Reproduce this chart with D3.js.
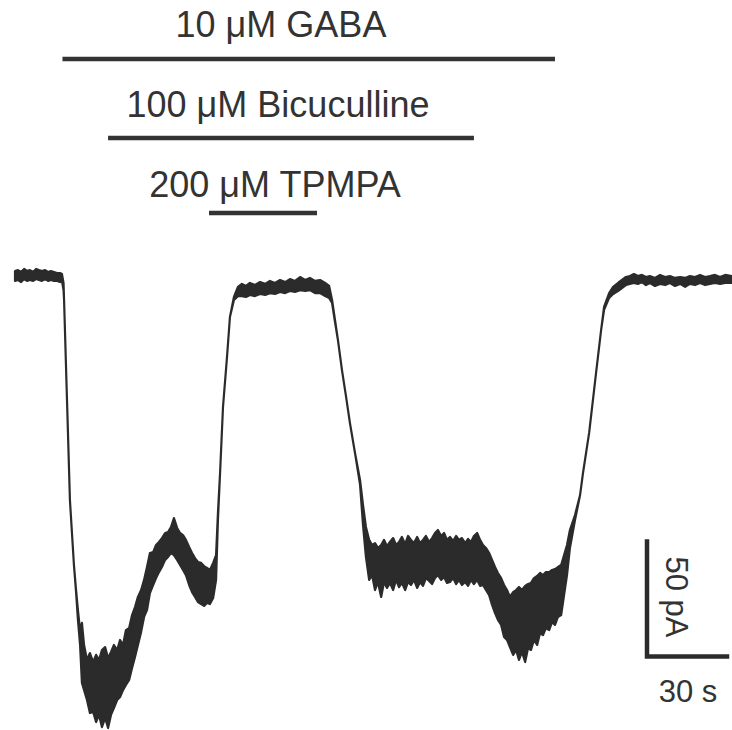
<!DOCTYPE html>
<html>
<head>
<meta charset="utf-8">
<script src="https://cdn.jsdelivr.net/npm/d3@7"></script>
<style>
  html, body { margin: 0; padding: 0; background: #ffffff; }
  svg { display: block; }
  text { font-family: "Liberation Sans", Arial, sans-serif; fill: #333333; }
</style>
</head>
<body>
<svg id="chart" width="732" height="730"></svg>
<script>
// ---------- DATA ----------
// Drug applications (seconds)
const drugLabels = ["10 \u03BCM GABA", "100 \u03BCM Bicuculline", "200 \u03BCM TPMPA"];
const drugStart = [17.8, 34.9, 72.75];
const drugEnd   = [202.5, 172.1, 113.25];

// Whole-cell current trace: time (s), upper and lower envelope of the noisy band (pA)
const traceTime = [0,1.1,2.3,3.4,4.5,5.6,6.8,7.9,9.0,10.1,11.3,12.4,13.5,14.6,15.8,16.9,17.6,18.2,18.4,19.5,20.6,22.1,22.9,23.6,24.4,25.1,25.9,27.0,28.1,29.3,30.4,31.5,32.6,33.8,34.9,36.0,37.1,38.3,39.4,40.5,41.6,42.8,43.9,45.0,46.1,47.3,48.4,49.5,50.6,51.8,52.9,54.0,55.1,56.3,57.4,58.5,59.6,60.8,61.9,63.0,64.1,65.3,66.4,67.5,68.6,69.8,70.9,72.0,73.1,74.3,75.4,76.1,76.9,78.0,79.5,80.6,82.1,83.6,85.1,86.6,88.1,90.0,91.9,93.8,95.6,97.5,99.4,101.3,103.1,105.0,106.9,108.8,110.6,112.5,114.4,116.3,117.8,118.9,120.0,121.1,122.6,124.1,125.6,127.5,129.4,130.5,131.6,132.8,133.9,135.0,136.1,137.3,138.4,139.5,140.6,141.8,142.9,144.0,145.1,146.3,147.4,148.5,149.6,150.8,151.9,153.0,154.1,155.3,156.4,157.5,158.6,159.8,160.9,162.0,163.1,164.3,165.4,166.5,167.6,168.8,169.9,171.0,172.1,173.3,174.4,175.5,176.6,177.8,178.9,180.0,181.1,182.3,183.4,184.5,185.6,186.8,187.9,189.0,190.1,191.3,192.4,193.5,194.6,195.8,196.9,198.0,199.1,200.3,201.4,202.5,203.6,204.8,205.9,207.0,208.1,210.0,211.9,213.0,215.3,217.9,219.8,220.9,222.8,224.3,226.1,227.6,229.1,230.6,232.1,233.6,235.1,236.6,238.1,240.0,241.9,243.8,245.6,247.5,249.4,251.3,253.1,255.0,256.9,258.8,260.6,262.5,264.4,266.3,268.9];

const traceUpper = [2.6,3.0,2.2,3.5,2.6,3.0,2.2,3.5,3.0,2.6,3.0,2.2,2.6,2.2,1.7,1.7,1.3,-2.6,-10.0,-53.5,-97.0,-125.2,-136.1,-144.8,-153.5,-150.4,-160.0,-166.5,-163.5,-167.4,-164.3,-166.5,-162.2,-160.9,-165.7,-163.0,-160.0,-162.2,-157.8,-160.0,-153.5,-152.6,-147.0,-143.5,-139.1,-136.1,-131.7,-126.1,-120.0,-119.6,-116.5,-115.2,-113.5,-111.3,-110.9,-108.7,-104.8,-109.1,-111.3,-112.2,-114.3,-117.4,-120.0,-122.2,-123.9,-124.3,-125.7,-126.5,-127.4,-124.3,-120.9,-102.6,-85.2,-56.5,-34.8,-17.4,-8.7,-4.3,-3.0,-3.9,-2.6,-3.5,-2.2,-3.0,-1.7,-2.6,-1.3,-2.2,-0.9,-1.7,0,-1.3,-0.4,-1.7,-1.3,-2.6,-3.9,-10.0,-18.7,-27.4,-40.4,-51.7,-63.5,-76.5,-88.3,-99.1,-108.7,-114.3,-116.5,-115.7,-117.8,-116.5,-114.3,-117.0,-115.2,-113.5,-116.5,-115.2,-113.0,-116.1,-112.6,-114.3,-115.7,-113.0,-115.7,-114.3,-112.6,-115.2,-113.5,-111.3,-110.0,-112.6,-111.3,-114.3,-113.0,-114.8,-112.6,-114.3,-113.5,-115.7,-113.9,-115.2,-112.6,-111.3,-114.3,-116.5,-117.8,-120.0,-123.0,-126.1,-128.7,-130.9,-133.9,-136.1,-139.1,-137.0,-136.1,-134.8,-136.1,-134.3,-133.5,-133.0,-130.9,-130.0,-128.7,-129.6,-128.3,-128.3,-127.4,-127.0,-126.1,-125.2,-120.9,-116.5,-110.0,-103.5,-94.8,-85.2,-67.8,-41.7,-23.0,-13.0,-7.0,-4.3,-2.6,-1.3,0,0.4,1.3,0.4,0.9,0,0.4,-0.4,0.9,0,0.4,-0.4,0,-0.4,0.4,0,0.9,0,0.4,0.9,0,0.9,0.4];

const traceLower = [-1.7,-1.3,-2.2,-0.9,-1.7,-1.3,-1.7,-0.9,-1.3,-1.7,-0.9,-1.7,-1.3,-1.7,-1.7,-2.2,-1.7,-5.7,-10.0,-53.5,-97.0,-125.2,-137.0,-149.1,-160.0,-176.5,-179.6,-183.9,-189.6,-189.1,-193.5,-190.4,-195.7,-191.7,-196.1,-190.4,-187.4,-183.9,-182.6,-179.6,-177.4,-175.2,-170.0,-165.2,-160.0,-154.3,-147.8,-144.8,-137.4,-133.9,-130.9,-128.3,-126.1,-123.0,-121.7,-120.0,-120.9,-123.0,-125.2,-127.4,-129.6,-133.9,-137.0,-139.1,-141.3,-142.2,-143.0,-141.7,-142.2,-139.6,-131.7,-105.7,-85.2,-56.5,-34.8,-17.4,-10.0,-8.3,-8.3,-8.7,-7.8,-8.3,-7.4,-7.8,-7.0,-7.4,-6.5,-7.0,-6.1,-6.5,-5.7,-6.1,-5.7,-7.0,-7.0,-8.3,-9.1,-11.3,-19.6,-27.4,-40.4,-51.7,-63.5,-76.5,-90.4,-107.8,-121.7,-131.7,-129.6,-136.1,-132.6,-139.1,-132.6,-135.2,-133.0,-136.1,-131.7,-134.8,-133.0,-136.1,-132.6,-133.9,-131.7,-135.2,-132.6,-134.3,-130.9,-132.2,-133.5,-130.9,-129.6,-131.7,-130.4,-133.0,-132.6,-130.9,-133.5,-131.7,-133.9,-132.6,-134.3,-131.7,-133.5,-131.7,-134.3,-133.9,-136.1,-138.3,-142.6,-146.1,-149.1,-151.3,-156.5,-157.8,-160.9,-164.3,-162.2,-166.5,-163.0,-167.4,-161.3,-162.2,-157.8,-160.0,-154.8,-155.7,-152.6,-153.5,-150.0,-151.3,-147.8,-147.0,-138.3,-129.6,-117.8,-105.7,-94.8,-85.2,-67.8,-41.7,-23.0,-14.3,-9.1,-7.4,-6.1,-4.8,-3.5,-3.0,-2.6,-3.0,-2.2,-3.5,-2.6,-3.9,-3.0,-3.5,-2.6,-3.9,-3.0,-4.3,-3.0,-3.5,-2.6,-3.5,-3.0,-2.6,-3.0,-2.6,-2.6];

// Calibration bar values
const scaleBarTime = 30;     // s
const scaleBarCurrent = 50;  // pA
const scaleBarLabels = ["30 s", "50 pA"];

// ---------- LAYOUT ----------
const svg = d3.select("#chart");
const ink = "#2b2b2b";

const x = d3.scaleLinear().domain([0, 270]).range([15, 735]);
const y = d3.scaleLinear().domain([0, -50]).range([277, 392]);

if (traceTime.length !== traceUpper.length || traceTime.length !== traceLower.length) {
  svg.append("text").attr("x", 20).attr("y", 400)
     .text("len " + traceTime.length + " " + traceUpper.length + " " + traceLower.length);
}

// Drug application bars and labels
const barY = [59, 138, 213];
const labelY = [37, 117, 197];
const labelCx = [281, 278, 275];

const drugs = drugLabels.map((d, i) => ({label: d, s: drugStart[i], e: drugEnd[i], i}));

svg.selectAll("line.drug").data(drugs).join("line")
  .attr("class", "drug")
  .attr("x1", d => x(d.s)).attr("x2", d => x(d.e))
  .attr("y1", d => barY[d.i]).attr("y2", d => barY[d.i])
  .attr("stroke", "#333333").attr("stroke-width", 4.5);

svg.selectAll("text.drug").data(drugs).join("text")
  .attr("class", "drug")
  .attr("x", d => labelCx[d.i]).attr("y", d => labelY[d.i])
  .attr("text-anchor", "middle")
  .attr("font-size", 36)
  .text(d => d.label);

// Trace
const pts = traceTime.map((t, i) => ({t, u: traceUpper[i], l: traceLower[i]}));
const area = d3.area()
  .x(d => x(d.t))
  .y0(d => y(d.l))
  .y1(d => y(d.u))
  .curve(d3.curveLinear);

svg.append("path")
  .datum(pts)
  .attr("d", area)
  .attr("fill", ink)
  .attr("stroke", ink)
  .attr("stroke-width", 2.2)
  .attr("stroke-linejoin", "round");

// Calibration bars
const sbT0 = 237, sbI0 = -165;
const sb = svg.append("g");
sb.append("path")
  .attr("d", d3.line()([
    [x(sbT0), y(sbI0 + scaleBarCurrent)],
    [x(sbT0), y(sbI0)],
    [x(sbT0 + scaleBarTime), y(sbI0)]
  ]))
  .attr("fill", "none")
  .attr("stroke", ink)
  .attr("stroke-width", 4.5)
  .attr("stroke-linejoin", "miter")
  .attr("stroke-linecap", "square");

sb.append("text")
  .attr("x", x(sbT0 + scaleBarTime / 2) + 1)
  .attr("y", y(sbI0) + 45)
  .attr("text-anchor", "middle")
  .attr("font-size", 31)
  .text(scaleBarLabels[0]);

sb.append("text")
  .attr("transform", `translate(${x(sbT0) + 19},${y(sbI0 + scaleBarCurrent / 2) - 2}) rotate(90)`)
  .attr("text-anchor", "middle")
  .attr("font-size", 31)
  .text(scaleBarLabels[1]);
</script>
</body>
</html>
